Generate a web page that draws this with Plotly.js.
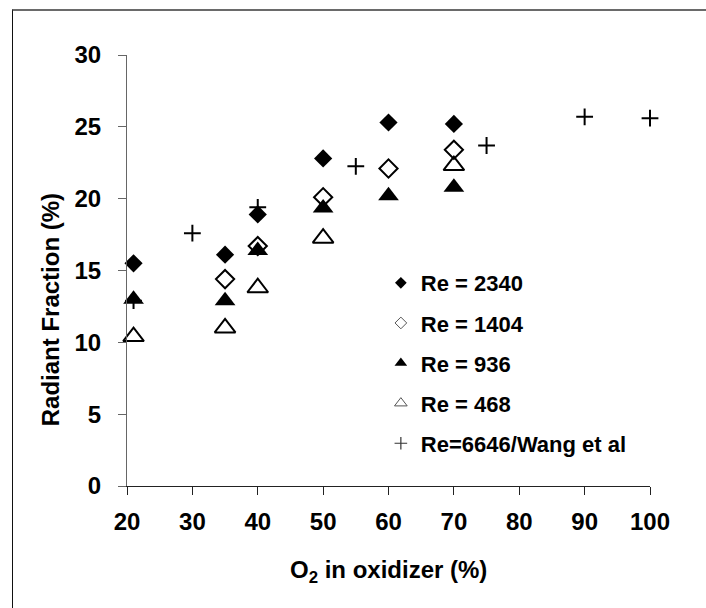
<!DOCTYPE html>
<html>
<head>
<meta charset="utf-8">
<script src="https://cdn.plot.ly/plotly-3.0.1.min.js"></script>
<style>
  html, body { margin: 0; padding: 0; background: #fff; }
  #wrap { position: relative; width: 706px; height: 608px; }
  #chart { position: absolute; left: 0; top: 0; width: 706px; height: 608px; }
  #frame { position: absolute; left: 12px; top: 9px; right: -4px; bottom: -4px;
           border-top: 2px solid #6a6a6a; border-left: 1px solid #111; pointer-events: none; }
</style>
</head>
<body>
<div id="wrap">
  <div id="chart"></div>
  <div id="frame"></div>
</div>
<script>
// Radiant fraction vs. oxygen concentration in the oxidizer
const o2_re2340 = [21, 35, 40, 50, 60, 70];
const rf_re2340 = [15.5, 16.1, 18.9, 22.8, 25.3, 25.2];

const o2_re1404 = [35, 40, 50, 60, 70];
const rf_re1404 = [14.4, 16.7, 20.1, 22.1, 23.4];

const o2_re936 = [21, 35, 40, 50, 60, 70];
const rf_re936 = [13.0, 12.9, 16.4, 19.35, 20.2, 20.8];

const o2_re468 = [21, 35, 40, 50, 70];
const rf_re468 = [10.4, 11.0, 13.8, 17.25, 22.3];

const o2_wang = [21, 30, 40, 55, 75, 90, 100];
const rf_wang = [12.9, 17.6, 19.4, 22.25, 23.7, 25.7, 25.6];

const seriesNames = ['Re = 2340', 'Re = 1404', 'Re = 936', 'Re = 468', 'Re=6646/Wang et al'];
const xTicks = [20, 30, 40, 50, 60, 70, 80, 90, 100];
const yTicks = [0, 5, 10, 15, 20, 25, 30];

const FONT = 'Liberation Sans, Arial, Helvetica, sans-serif';

// marker styles for the plotted points and for the smaller legend keys
const styles = [
  { plot: { symbol: 'diamond', size: 14, color: '#000', line: { width: 0 } },
    key:  { symbol: 'diamond', size: 9, color: '#000', line: { width: 0 } } },
  { plot: { symbol: 'diamond-open', size: 14, color: '#000', line: { width: 2, color: '#000' } },
    key:  { symbol: 'diamond-open', size: 9, color: '#555', line: { width: 1, color: '#555' } } },
  { plot: { symbol: 'triangle-up', size: 18, color: '#000', line: { width: 0 } },
    key:  { symbol: 'triangle-up', size: 11, color: '#000', line: { width: 0 } } },
  { plot: { symbol: 'triangle-up-open', size: 18, color: '#000', line: { width: 2, color: '#000' } },
    key:  { symbol: 'triangle-up-open', size: 11, color: '#555', line: { width: 1, color: '#555' } } },
  { plot: { symbol: 'cross-thin-open', size: 12, color: '#000', line: { width: 2, color: '#000' } },
    key:  { symbol: 'cross-thin-open', size: 9, color: '#333', line: { width: 1.2, color: '#333' } } }
];

const xs = [o2_re2340, o2_re1404, o2_re936, o2_re468, o2_wang];
const ys = [rf_re2340, rf_re1404, rf_re936, rf_re468, rf_wang];

const traces = [];
xs.forEach((x, i) => {
  traces.push({
    type: 'scatter', mode: 'markers', x: x, y: ys[i],
    name: seriesNames[i], showlegend: false, cliponaxis: false,
    marker: styles[i].plot, hoverinfo: 'x+y'
  });
});
// legend keys
seriesNames.forEach((n, i) => {
  traces.push({
    type: 'scatter', mode: 'markers', x: [null], y: [null],
    name: n, legendgroup: 'g' + i, showlegend: true,
    marker: styles[i].key
  });
});

const axisCommon = {
  showgrid: false, zeroline: false, showline: true, linewidth: 1,
  ticks: 'outside', ticklen: 8, tickwidth: 1,
  tickfont: { family: FONT, size: 24, color: '#000', weight: 'bold' },
  fixedrange: true
};

const layout = {
  width: 706, height: 608,
  margin: { l: 127, r: 56, t: 55, b: 122 },
  paper_bgcolor: '#fff', plot_bgcolor: '#fff',
  showlegend: true,
  xaxis: Object.assign({}, axisCommon, {
    range: [20, 100], tickmode: 'array', tickvals: xTicks,
    linecolor: '#222', tickcolor: '#222', ticklabelstandoff: 6
  }),
  yaxis: Object.assign({}, axisCommon, {
    range: [0, 30], tickmode: 'array', tickvals: yTicks,
    linecolor: '#666', tickcolor: '#666', ticklabelstandoff: 12
  }),
  legend: {
    x: 0.4854, xanchor: 'left', y: 0.5196, yanchor: 'top',
    bgcolor: 'rgba(0,0,0,0)', borderwidth: 0,
    traceorder: 'grouped', tracegroupgap: 8.5,
    font: { family: FONT, size: 22, color: '#000', weight: 'bold' }
  },
  annotations: [
    { xref: 'paper', yref: 'paper', x: 0.5, y: -0.198, xanchor: 'center', yanchor: 'middle',
      showarrow: false, text: 'O<sub>2</sub> in oxidizer (%)',
      font: { family: FONT, size: 24, color: '#000', weight: 'bold' } },
    { xref: 'paper', yref: 'paper', x: -0.147, y: 0.408, xanchor: 'center', yanchor: 'middle',
      showarrow: false, textangle: -90, text: 'Radiant Fraction (%)',
      font: { family: FONT, size: 24, color: '#000', weight: 'bold' } }
  ]
};

Plotly.newPlot('chart', traces, layout, { displayModeBar: false, staticPlot: true });
</script>
</body>
</html>
